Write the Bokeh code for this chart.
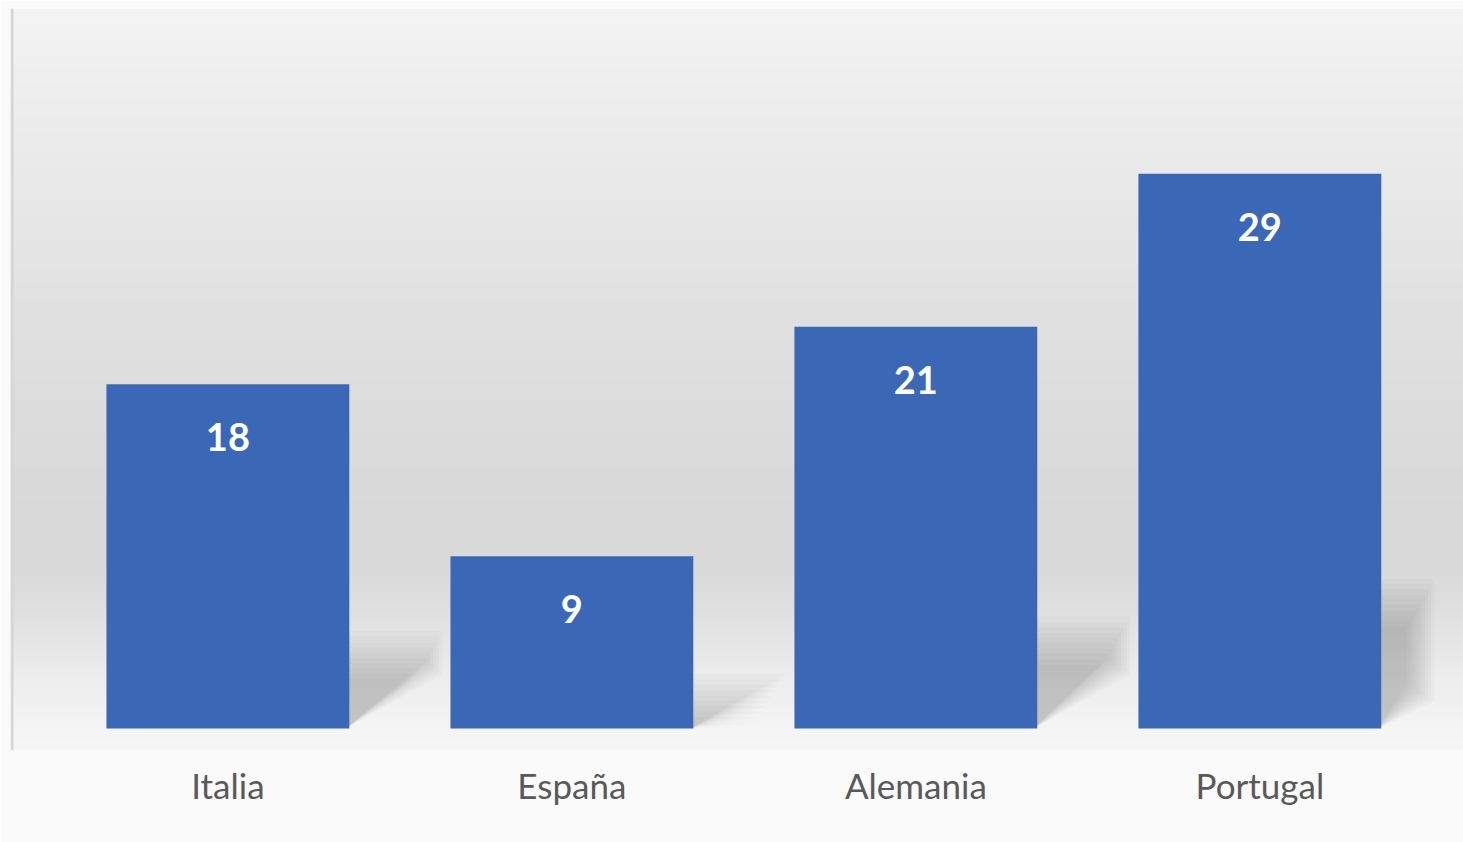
import numpy as np
from bokeh.plotting import figure
from bokeh.models import Range1d, FixedTicker, Span, ColumnDataSource
from bokeh.core.properties import value
from bokeh.embed import file_html
from bokeh.resources import INLINE

# ---- data ----
categories = ["Italia", "España", "Alemania", "Portugal"]
values = [18, 9, 21, 29]
value_labels = [str(v) for v in values]
positions = list(range(len(categories)))

# ---- geometry / style ----
BAR_W = 0.706
X0, X1 = -0.632, 3.592
Y0, Y1 = -1.15, 37.64
FRAME_TOP, FRAME_BOT = 8, 750
FRAME_H = FRAME_BOT - FRAME_TOP
PX_PER_X = 344.0
PX_PER_Y = 19.13

p = figure(width=1463, height=842, output_backend="svg", toolbar_location=None,
           x_range=Range1d(X0, X1), y_range=Range1d(Y0, Y1),
           y_axis_location=None,
           min_border_left=10, min_border_right=0, min_border_top=FRAME_TOP,
           min_border_bottom=842 - FRAME_BOT,
           border_fill_color="#fafafa", outline_line_color=None)
p.grid.visible = False

# background vertical gradient (page-y anchors -> grey level)
anc_y = np.array([8, 100, 200, 300, 400, 500, 560, 600, 640, 680, 728, 750], float)
anc_g = np.array([244, 238, 232, 226, 221, 218, 217, 222, 230, 238, 245, 247], float)
rows = FRAME_H
py = FRAME_BOT - (np.arange(rows) + 0.5)
g = np.interp(py, anc_y, anc_g).astype(np.uint8)
img = np.empty((rows, 1), dtype=np.uint32)
view = img.view(dtype=np.uint8).reshape((rows, 1, 4))
view[:, 0, 0] = g
view[:, 0, 1] = g
view[:, 0, 2] = g
view[:, 0, 3] = 255
p.image_rgba(image=[img], x=X0, y=Y0, dw=X1 - X0, dh=Y1 - Y0)

# left border line of chart area
p.add_layout(Span(location=X0 + 1.5 / PX_PER_X, dimension="height",
                  line_color="#d6d6d6", line_width=3))

# soft shadows behind/right of each bar, derived from the bar values
clip_x = 3 + (1434 - 1259.5) / PX_PER_X
for k in range(10):
    xs, ys = [], []
    for xi, v in zip(positions, values):
        xl = xi + BAR_W / 2 - 0.01
        xr = min(xl + 0.28, clip_x) - k * 0.009
        top = 0.25 * v + 0.6 - k * 0.28
        rise = (xr - xl) * PX_PER_X * 0.68 / PX_PER_Y - 0.6 + k * 0.22
        xs.append([xl, xl, xr, xr])
        ys.append([0, top, top, min(max(rise, 0), top)])
    p.patches(xs, ys, fill_color="black", fill_alpha=0.021, line_color=None)

src = ColumnDataSource(dict(x=positions, v=values, label=value_labels, cat=categories))
p.vbar(x="x", top="v", bottom=0, width=BAR_W, source=src,
       fill_color="#3b68b6", line_color=None)
p.text(x="x", y="v", text="label", source=src, text_color="white",
       text_font=value("Lato"), text_font_style="bold", text_font_size="38px",
       text_align="center", text_baseline="middle", y_offset=53)

ax = p.xaxis[0]
ax.ticker = FixedTicker(ticks=positions)
ax.major_label_overrides = {i: c for i, c in zip(positions, categories)}
ax.axis_line_color = None
ax.major_tick_line_color = None
ax.minor_tick_line_color = None
ax.major_label_text_font = "Lato"
ax.major_label_text_font_size = "35px"
ax.major_label_text_color = "#595959"
ax.major_label_standoff = 7

open("out.html", "w").write(file_html(p, INLINE))
